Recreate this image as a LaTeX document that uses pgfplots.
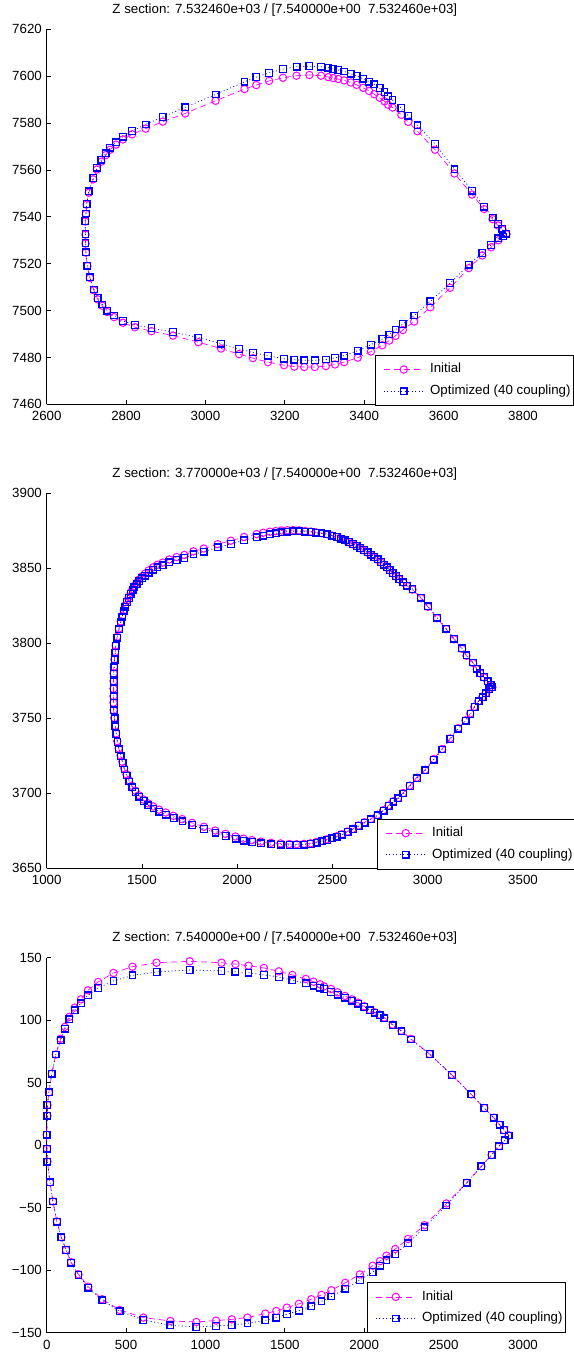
\documentclass[border=0pt]{standalone}
\usepackage{fontspec}
\setmainfont{Liberation Sans}
\usepackage{pgfplots}
\pgfplotsset{compat=1.18}
\definecolor{mag}{rgb}{1,0,1}
\definecolor{blu}{rgb}{0,0,1}
\pgfplotsset{
  matstyle/.style={
    scale only axis, width=476.3pt, height=375pt,
    axis x line*=bottom, axis y line*=left,
    axis line style={line width=0.8pt, black},
    tick align=inside, major tick length=4.5pt,
    tick style={line width=0.8pt, black},
    font=\fontsize{13.3}{16}\selectfont,
    xticklabel style={inner sep=0pt, anchor=north, yshift=-7pt},
    yticklabel style={inner sep=0pt, anchor=east, xshift=-4.7pt},
    title style={at={(0.5,1)}, anchor=base, yshift=10pt, inner sep=0pt},
    clip=false,
    legend cell align=left,
    legend style={draw=black, line width=0.8pt, fill=white, inner xsep=3pt, inner ysep=8pt,
      row sep=9.3pt, nodes={inner sep=0pt, text height=9.5pt, text depth=2.8pt},
      /tikz/every odd column/.append style={column sep=6pt},
      anchor=south east, at={(rel axis cs:1,0)}},
    legend image code/.code={\path (0pt,0pt); \draw[##1, mark repeat=2, mark phase=2] plot coordinates {(5pt,0pt) (25pt,0pt) (45pt,0pt)};},
  },
  initial/.style={color=mag, line width=0.7pt, dash pattern=on 6pt off 4pt, mark=o, mark size=3.7pt, mark options={solid, line width=1.0pt}},
  optim/.style={color=blu, line width=0.7pt, dash pattern=on 1pt off 2.5pt, mark=square, mark size=3.3pt, mark options={solid, line width=1.3pt}},
}
\begin{document}
\begin{tikzpicture}[x=1pt,y=1pt]
\useasboundingbox (0,0) rectangle (573,-1354);
% ---------------- subplot 1
\begin{axis}[matstyle, at={(46.7pt,-404.3pt)}, anchor=south west,
  xmin=2600, xmax=3800, ymin=7460, ymax=7620,
  xtick={2600,2800,3000,3200,3400,3600,3800}, xticklabels={2600,2800,3000,3200,3400,3600,3800},
  ytick={7460,7480,7500,7520,7540,7560,7580,7600,7620}, yticklabels={7460,7480,7500,7520,7540,7560,7580,7600,7620},
  title={Z section: 7.532460e+03 / [7.540000e+00\ \ 7.532460e+03]},
  legend style={xshift=51pt, yshift=-1.4pt}]
\addplot[initial] coordinates {
(3758,7532.6) (3748.2,7534.5) (3737.1,7536.3) (3723.3,7539.0) (3702.1,7543.3) (3671.6,7549.5) (3627.3,7558.5) (3578.4,7568.6) (3534.1,7576.5) (3511.0,7580.5) (3493.5,7583.5) (3471.3,7586.6) (3460.2,7587.8) (3451.0,7589.3) (3439.0,7590.8) (3425.2,7592.3) (3412.2,7593.7) (3397.5,7595.0) (3380.9,7596.3) (3366.1,7597.3) (3349.5,7598.2) (3334.7,7598.8) (3321.8,7599.2) (3309.8,7599.6) (3291.3,7600.2) (3261.8,7600.5) (3229.5,7600.2) (3195.3,7599.3) (3160.3,7598.0) (3128.0,7596.2) (3098.4,7594.5) (3025.5,7589.5) (2948.9,7584.1) (2892.6,7580.6) (2849.2,7577.6) (2815.1,7575.2) (2792.0,7573.0) (2774.4,7570.8) (2759.7,7568.6) (2748.6,7566.3) (2737.5,7563.5) (2726.5,7560.2) (2717.2,7556.0) (2706.1,7550.3) (2700.6,7545.2) (2698.8,7541.2) (2696.9,7538.0) (2697.8,7532.4) (2697.8,7528.6) (2698.8,7524.7) (2702.5,7519.0) (2708.9,7513.9) (2719.1,7508.6) (2728.3,7504.8) (2740.3,7502.0) (2752.3,7499.4) (2769.8,7497.2) (2792.0,7494.8) (2822.4,7492.9) (2864.0,7491.2) (2918.4,7489.3) (2982.1,7486.5) (3039.3,7483.8) (3084.6,7481.4) (3119.6,7479.7) (3157.5,7478.0) (3198.1,7476.7) (3224.0,7476.1) (3248.9,7475.9) (3275.6,7475.9) (3303.3,7476.3) (3326.4,7477.0) (3349.5,7478.0) (3383.6,7479.9) (3416.9,7482.5) (3445.5,7485.2) (3463.0,7487.2) (3478.7,7489.2) (3497.2,7491.7) (3525.8,7495.3) (3566.4,7501.4) (3616.2,7509.7) (3663.3,7518.1) (3697.4,7523.5) (3719.6,7527.0) (3738.1,7530.0) (3758,7532.6)
};
\addlegendentry{Initial}
\addplot[optim] coordinates {
(3758,7532.8) (3748.2,7534.9) (3737.1,7536.9) (3723.3,7539.7) (3702.1,7544.3) (3671.6,7551.2) (3627.3,7560.3) (3578.4,7571.1) (3534.1,7579.0) (3511.0,7583.1) (3493.5,7586.4) (3471.3,7589.8) (3460.2,7591.4) (3451.0,7593.2) (3439.0,7594.9) (3425.2,7596.5) (3412.2,7597.7) (3397.5,7598.9) (3380.9,7600.1) (3366.1,7601.0) (3349.5,7602.0) (3334.7,7602.6) (3321.8,7603.0) (3309.8,7603.6) (3291.3,7604.0) (3261.8,7604.3) (3229.5,7604.0) (3195.3,7603.0) (3160.3,7601.4) (3128.0,7599.6) (3098.4,7597.6) (3025.5,7592.2) (2948.9,7586.7) (2892.6,7582.6) (2849.2,7579.4) (2815.1,7576.6) (2792.0,7574.2) (2774.4,7571.8) (2759.7,7569.5) (2748.6,7567.1) (2737.5,7564.3) (2726.5,7560.9) (2717.2,7556.6) (2706.1,7550.9) (2700.6,7545.4) (2698.8,7541.4) (2696.9,7538.2) (2697.8,7532.6) (2697.8,7528.8) (2698.8,7524.9) (2702.5,7519.2) (2708.9,7514.2) (2719.1,7509.0) (2728.3,7505.3) (2740.3,7502.6) (2752.3,7500.0) (2769.8,7497.9) (2792.0,7495.6) (2822.4,7493.9) (2864.0,7492.5) (2918.4,7490.8) (2982.1,7488.5) (3039.3,7485.9) (3084.6,7483.6) (3119.6,7482.1) (3157.5,7480.7) (3198.1,7479.4) (3224.0,7479.0) (3248.9,7478.8) (3275.6,7478.8) (3303.3,7479.1) (3326.4,7479.8) (3349.5,7480.8) (3383.6,7482.9) (3416.9,7485.4) (3445.5,7487.9) (3463.0,7489.8) (3478.7,7491.9) (3497.2,7494.2) (3525.8,7497.9) (3566.4,7503.9) (3616.2,7511.7) (3663.3,7519.5) (3697.4,7524.6) (3719.6,7528.0) (3738.1,7530.8) (3750.5,7531.6) (3758,7532.8)
};
\addlegendentry{Optimized (40 coupling)}
\end{axis}
% ---------------- subplot 2
\begin{axis}[matstyle, at={(46.7pt,-868.3pt)}, anchor=south west,
  xmin=1000, xmax=3500, ymin=3650, ymax=3900,
  xtick={1000,1500,2000,2500,3000,3500}, xticklabels={1000,1500,2000,2500,3000,3500},
  ytick={3650,3700,3750,3800,3850,3900}, yticklabels={3650,3700,3750,3800,3850,3900},
  title={Z section: 3.770000e+03 / [7.540000e+00\ \ 7.532460e+03]},
  legend style={xshift=53pt, yshift=-1pt}]
\addplot[initial] coordinates {
(3338.2,3770.6) (3330.5,3772.0) (3315.1,3774.4) (3295.8,3777.2) (3276.5,3779.9) (3257.3,3782.7) (3238.0,3786.8) (3203.3,3791.7) (3180.2,3796.3) (3137.9,3802.7) (3097.4,3809.4) (3049.3,3816.7) (3001.1,3824.3) (2964.5,3830.1) (2920.2,3835.8) (2891.3,3838.2) (2872.1,3840.4) (2850.9,3842.6) (2833.6,3844.6) (2816.2,3846.6) (2800.8,3848.6) (2785.4,3850.4) (2770.0,3852.1) (2754.6,3853.9) (2737.3,3855.7) (2719.9,3857.3) (2702.6,3858.8) (2685.3,3860.4) (2666.0,3861.9) (2646.7,3863.3) (2627.5,3864.7) (2608.2,3866.0) (2589.0,3867.4) (2567.8,3868.5) (2544.7,3869.7) (2521.5,3870.8) (2498.4,3871.8) (2473.4,3872.7) (2442.6,3873.4) (2413.7,3874.0) (2386.7,3874.5) (2355.9,3874.9) (2325.1,3875.3) (2294.3,3875.5) (2263.4,3875.4) (2232.6,3875.2) (2201.8,3874.8) (2171.0,3874.4) (2136.3,3873.7) (2101.7,3872.8) (2036.2,3870.9) (1966.9,3868.4) (1897.5,3866.1) (1824.3,3863.2) (1770.4,3861.3) (1722.3,3858.9) (1681.8,3857.5) (1643.3,3855.9) (1608.6,3853.8) (1581.7,3852.4) (1558.5,3850.7) (1535.4,3848.6) (1516.2,3846.5) (1500.8,3844.6) (1485.4,3842.5) (1471.9,3840.4) (1460.3,3838.3) (1450.7,3836.2) (1441.1,3833.8) (1431.4,3831.0) (1421.8,3828.4) (1412.2,3825.2) (1404.5,3822.0) (1396.8,3818.4) (1389.1,3814.6) (1379.4,3809.8) (1369.8,3804.3) (1362.1,3798.6) (1359.2,3794.3) (1355.3,3789.3) (1352.9,3784.4) (1351.0,3779.9) (1350.5,3774.8) (1350.5,3769.7) (1350.5,3764.8) (1350.5,3760.4) (1351.0,3755.5) (1354.8,3750.3) (1358.7,3745.0) (1364.4,3740.0) (1370.2,3734.8) (1377.9,3730.0) (1387.6,3725.3) (1397.2,3721.0) (1406.8,3716.7) (1418.4,3712.7) (1431.9,3708.8) (1447.3,3705.0) (1464.6,3701.8) (1483.9,3698.7) (1507.0,3695.9) (1532.0,3693.3) (1559.0,3691.2) (1589.8,3689.1) (1624.5,3687.2) (1664.9,3685.0) (1711.1,3682.8) (1763.1,3680.3) (1824.8,3677.7) (1884.5,3675.2) (1938.4,3673.0) (1990.4,3671.2) (2032.8,3669.8) (2077.1,3668.8) (2123.3,3667.8) (2177.2,3667.0) (2227.3,3666.6) (2273.5,3666.2) (2312.0,3666.1) (2350.6,3666.3) (2385.2,3666.7) (2416.0,3667.5) (2443.0,3668.4) (2470.0,3669.3) (2496.9,3670.3) (2523.9,3671.4) (2548.9,3672.7) (2577.8,3674.5) (2606.7,3676.3) (2635.6,3678.5) (2668.3,3680.7) (2701.1,3682.9) (2735.8,3685.6) (2766.6,3688.7) (2793.5,3691.8) (2818.6,3694.7) (2843.6,3696.9) (2870.6,3700.2) (2905.2,3705.1) (2941.8,3710.4) (2986.1,3715.7) (3030.4,3722.8) (3074.7,3729.5) (3117.1,3736.6) (3159.4,3743.4) (3198.0,3748.7) (3223.0,3753.2) (3244.2,3757.7) (3265.4,3761.4) (3286.6,3764.1) (3303.9,3766.6) (3321.3,3769.2) (3338.2,3770.6)
};
\addlegendentry{Initial}
\addplot[optim] coordinates {
(3338.2,3770.8) (3330.5,3772.2) (3315.1,3774.6) (3295.8,3777.5) (3276.5,3780.2) (3257.3,3783.0) (3238.0,3787.2) (3203.3,3792.1) (3180.2,3796.7) (3137.9,3803.1) (3097.4,3809.8) (3049.3,3817.1) (3001.1,3824.7) (2964.5,3830.5) (2920.2,3836.2) (2891.3,3838.5) (2872.1,3840.7) (2850.9,3842.9) (2833.6,3844.9) (2816.2,3846.9) (2800.8,3848.9) (2785.4,3850.7) (2770.0,3852.4) (2754.6,3854.2) (2737.3,3856.0) (2719.9,3857.6) (2702.6,3859.1) (2685.3,3860.7) (2666.0,3862.2) (2646.7,3863.6) (2627.5,3864.9) (2608.2,3866.2) (2589.0,3867.6) (2567.8,3868.7) (2544.7,3869.8) (2521.5,3870.9) (2498.4,3871.8) (2473.4,3872.7) (2442.6,3873.3) (2413.7,3873.8) (2386.7,3874.2) (2355.9,3874.4) (2325.1,3874.7) (2294.3,3874.7) (2263.4,3874.4) (2232.6,3874.0) (2201.8,3873.3) (2171.0,3872.7) (2136.3,3871.8) (2101.7,3870.7) (2036.2,3868.7) (1966.9,3866.2) (1897.5,3864.0) (1824.3,3861.1) (1770.4,3859.3) (1722.3,3856.9) (1681.8,3855.6) (1643.3,3854.0) (1608.6,3852.0) (1581.7,3850.7) (1558.5,3849.1) (1535.4,3847.1) (1516.2,3845.1) (1500.8,3843.3) (1485.4,3841.3) (1471.9,3839.3) (1460.3,3837.3) (1450.7,3835.3) (1441.1,3832.9) (1431.4,3830.2) (1421.8,3827.6) (1412.2,3824.5) (1404.5,3821.3) (1396.8,3817.8) (1389.1,3814.0) (1379.4,3809.3) (1369.8,3803.8) (1362.1,3798.2) (1360.2,3793.9) (1356.3,3789.0) (1354.4,3784.1) (1352.5,3779.7) (1352.5,3774.6) (1352.5,3769.5) (1352.5,3764.6) (1352.5,3760.2) (1352.5,3755.3) (1356.3,3750.0) (1360.2,3744.7) (1365.9,3739.6) (1371.7,3734.3) (1379.4,3729.4) (1389.1,3724.7) (1398.7,3720.3) (1408.3,3715.9) (1419.9,3711.9) (1433.4,3707.9) (1448.8,3704.1) (1466.1,3700.8) (1485.4,3697.7) (1508.5,3694.8) (1533.5,3692.1) (1560.5,3689.9) (1591.3,3687.7) (1626.0,3685.7) (1666.4,3683.5) (1712.6,3681.3) (1764.6,3678.8) (1826.3,3676.2) (1886.0,3673.7) (1939.9,3671.5) (1991.9,3669.7) (2034.3,3668.4) (2078.6,3667.5) (2124.8,3666.6) (2178.7,3666.0) (2228.8,3665.8) (2275.0,3665.5) (2313.5,3665.5) (2352.1,3665.8) (2386.7,3666.2) (2417.5,3667.1) (2444.5,3668.0) (2471.5,3668.9) (2498.4,3670.0) (2525.4,3671.1) (2550.4,3672.4) (2579.3,3674.2) (2608.2,3676.0) (2637.1,3678.2) (2669.8,3680.4) (2702.6,3682.6) (2737.3,3685.3) (2768.1,3688.4) (2795.0,3691.5) (2820.1,3694.4) (2845.1,3696.6) (2872.1,3699.9) (2906.7,3704.8) (2943.3,3710.1) (2987.6,3715.4) (3031.9,3722.5) (3076.2,3729.2) (3118.6,3736.3) (3160.9,3743.1) (3199.5,3748.4) (3224.5,3752.9) (3245.7,3757.5) (3266.9,3761.3) (3288.1,3764.0) (3305.4,3766.6) (3322.8,3769.3) (3338.2,3770.8)
};
\addlegendentry{Optimized (40 coupling)}
\end{axis}
% ---------------- subplot 3
\begin{axis}[matstyle, at={(46.7pt,-1332.7pt)}, anchor=south west,
  xmin=0, xmax=3000, ymin=-150, ymax=150,
  xtick={0,500,1000,1500,2000,2500,3000}, xticklabels={0,500,1000,1500,2000,2500,3000},
  ytick={-150,-100,-50,0,50,100,150}, yticklabels={−150,−100,−50,0,50,100,150},
  title={Z section: 7.540000e+00 / [7.540000e+00\ \ 7.532460e+03]},
  legend style={xshift=43pt, yshift=-0.3pt}]
\addplot[initial] coordinates {
(2910.6,7.8) (2880.7,12.1) (2853.1,16.3) (2816.3,22.0) (2756.5,29.7) (2673.7,40.7) (2551.9,56.4) (2411.7,72.9) (2294.4,85.1) (2234.6,91.5) (2179.5,96.5) (2126.6,102.1) (2096.7,104.5) (2064.5,106.4) (2036.9,108.2) (2000.1,111.2) (1961.0,114.1) (1921.9,116.7) (1878.3,119.4) (1832.3,122.3) (1791.0,125.0) (1747.2,127.1) (1722.0,128.7) (1680.6,130.8) (1632.3,133.0) (1547.2,136.2) (1462.2,139.1) (1367.9,141.8) (1271.3,143.6) (1188.6,144.9) (1101.2,146.0) (901.2,147.1) (692.0,146.0) (540.3,142.8) (420.7,137.8) (324.2,130.6) (259.8,123.9) (216.1,116.7) (177.0,110.1) (142.5,102.7) (115.0,94.7) (87.4,85.1) (57.5,72.6) (32.2,57.2) (13.8,42.3) (4.6,32.1) (4.6,23.6) (0,8.3) (2.3,-2.9) (4.6,-13.1) (20.7,-29.7) (39.1,-45.0) (64.4,-61.1) (92.0,-73.6) (121.8,-83.8) (154.0,-93.6) (200.0,-103.2) (262.1,-113.2) (349.4,-123.2) (459.8,-131.8) (609.2,-137.9) (779.4,-140.6) (942.6,-141.4) (1066.7,-140.3) (1165.6,-139.3) (1264.5,-137.9) (1377.1,-134.7) (1446.1,-132.6) (1512.7,-129.9) (1588.6,-126.9) (1666.8,-123.2) (1731.1,-119.7) (1793.2,-116.0) (1880.6,-110.1) (1972.5,-103.4) (2053.0,-96.4) (2099.0,-92.7) (2140.4,-88.4) (2195.5,-83.0) (2276.0,-75.0) (2379.5,-64.0) (2517.4,-46.6) (2646.1,-30.0) (2738.1,-16.9) (2802.5,-7.8) (2848.4,-0.8) (2885.3,4.0) (2910.6,7.8)
};
\addlegendentry{Initial}
\addplot[optim] coordinates {
(2910.6,7.8) (2880.7,12.1) (2853.1,16.3) (2816.3,22.0) (2756.5,29.7) (2673.7,40.7) (2551.9,56.1) (2411.7,72.9) (2294.4,84.6) (2234.6,91.2) (2179.5,96.0) (2126.6,101.6) (2096.7,104.0) (2064.5,106.1) (2036.9,108.0) (2000.1,110.6) (1961.0,113.3) (1921.9,115.7) (1878.3,118.1) (1832.3,120.5) (1791.0,122.6) (1747.2,125.0) (1722.0,126.1) (1680.6,127.7) (1632.3,129.5) (1547.2,131.9) (1462.2,134.6) (1367.9,136.2) (1271.3,138.0) (1188.6,138.8) (1101.2,139.4) (901.2,140.2) (692.0,138.6) (540.3,135.9) (420.7,131.4) (324.2,125.8) (259.8,119.9) (216.1,113.6) (177.0,108.0) (142.5,100.8) (115.0,93.1) (87.4,84.0) (57.5,72.6) (32.2,57.2) (13.8,42.3) (4.6,32.1) (4.6,23.6) (0,8.3) (2.3,-2.9) (4.6,-13.1) (20.7,-29.7) (39.1,-45.0) (64.4,-61.1) (92.0,-73.6) (121.8,-83.8) (154.0,-94.0) (200.0,-103.9) (262.1,-114.1) (349.4,-124.0) (459.8,-132.8) (609.2,-139.8) (779.4,-144.1) (942.6,-145.4) (1066.7,-144.6) (1165.6,-143.8) (1264.5,-142.5) (1377.1,-140.1) (1446.1,-137.9) (1512.7,-135.2) (1588.6,-132.3) (1666.8,-128.8) (1731.1,-124.8) (1793.2,-121.0) (1880.6,-114.9) (1972.5,-107.9) (2053.0,-101.5) (2099.0,-96.4) (2140.4,-92.1) (2195.5,-87.0) (2276.0,-78.5) (2379.5,-65.6) (2517.4,-48.2) (2646.1,-30.0) (2738.1,-16.9) (2802.5,-7.8) (2848.4,-0.8) (2885.3,4.0) (2910.6,7.8)
};
\addlegendentry{Optimized (40 coupling)}
\end{axis}
\end{tikzpicture}
\end{document}
